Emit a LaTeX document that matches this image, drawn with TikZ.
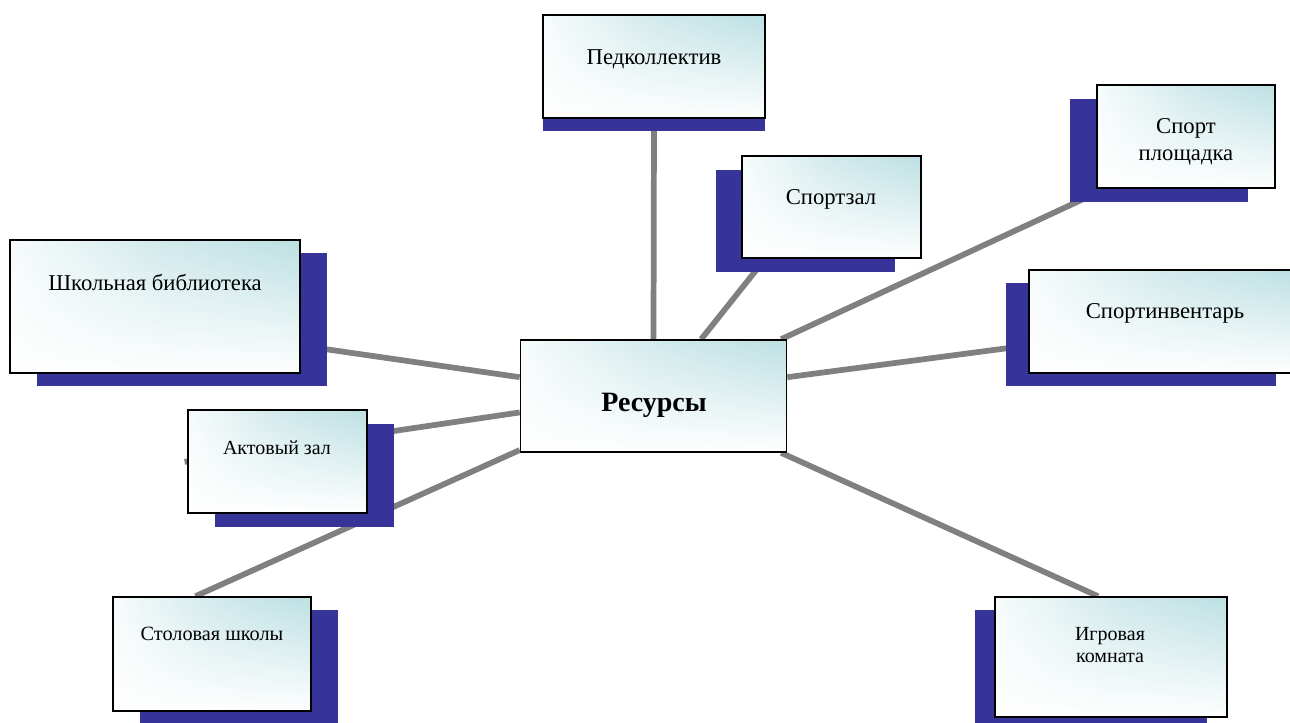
\documentclass[tikz,border=0pt]{standalone}
\usepackage{fontspec}
\setmainfont{Liberation Serif}
\usetikzlibrary{shadows,backgrounds,fadings}

\definecolor{shadowblue}{RGB}{54,52,153}
\definecolor{linkgray}{RGB}{128,128,128}
\definecolor{boxteal}{RGB}{186,223,226}
\pgfdeclarehorizontalshading{boxshade}{100bp}{color(0bp)=(white); color(20bp)=(white); color(50bp)=(boxteal!65!white); color(78bp)=(boxteal); color(100bp)=(boxteal)}
\tikzfading[name=fadelow, top color=transparent!100, middle color=transparent!80, bottom color=transparent!0]

\tikzset{
  box/.style={rectangle, draw=black, line width=1.2pt, shading=boxshade, inner sep=0pt,
    path picture={\fill[white, path fading=fadelow] (path picture bounding box.north west) rectangle (path picture bounding box.south east);}},
  shad/.style 2 args={drop shadow={shadow xshift=#1, shadow yshift=#2, fill=shadowblue, opacity=1}},
  link/.style={draw=linkgray, line width=4.3pt},
  lbl/.style={inner sep=0pt, anchor=base, font=\fontsize{17}{20.25}\selectfont},
}

\begin{document}
\begin{tikzpicture}[x=0.75pt, y=-0.75pt]
      \useasboundingbox (0,0) rectangle (1290,722);
      % boxes
      \node [box, minimum width=199.5pt, minimum height=84pt] (res) at (653.5,396) {};
      \node [box, shad={0pt}{-9.75pt}, minimum width=166.5pt, minimum height=77.25pt] (ped) at (654,66.5) {};
      \node [box, shad={-19.5pt}{-10.5pt}, minimum width=134.25pt, minimum height=76.5pt] (sz) at (831.5,207) {};
      \node [box, shad={-20.25pt}{-10.5pt}, minimum width=133.5pt, minimum height=77.25pt] (sp) at (1186,136.5) {};
      \node [box, shad={-17.25pt}{-9.75pt}, minimum width=202.5pt, minimum height=77.25pt] (si) at (1164,321.5) {};
      \node [box, shad={20.25pt}{-9.75pt}, minimum width=217.5pt, minimum height=99.75pt] (lib) at (155,306.5) {};
      \node [box, shad={20.25pt}{-10.5pt}, minimum width=134.25pt, minimum height=77.25pt] (akt) at (277.5,461.5) {};
      \node [box, shad={20.25pt}{-9.75pt}, minimum width=148.5pt, minimum height=85.5pt] (st) at (212,654) {};
      \node [box, shad={-15pt}{-9.75pt}, minimum width=174pt, minimum height=90pt] (ig) at (1111,657) {};
      % texts
      \node [lbl, font=\fontsize{21}{25}\selectfont\bfseries] (restxt) at (654,411.7) {Ресурсы};
      \node [lbl] (pedtxt) at (654,64) {Педколлектив};
      \node [lbl] (sztxt) at (831,204) {Спортзал};
      \node [lbl, anchor=north, align=center] (sptxt) at (1186,118) {Спорт\\площадка};
      \node [lbl] (sitxt) at (1165,318) {Спортинвентарь};
      \node [lbl] (libtxt) at (155,290) {Школьная библиотека};
      \node [lbl, font=\fontsize{15}{16.5}\selectfont] (akttxt) at (277,454) {Актовый зал};
      \node [lbl, font=\fontsize{15.2}{16.5}\selectfont] (sttxt) at (212,640) {Столовая школы};
      \node [lbl, anchor=north, align=center, font=\fontsize{15}{16.5}\selectfont] (igtxt) at (1110,627) {Игровая\\комната};
      % links
      \begin{scope}[on background layer]
        \draw [link] (res.north) -- (ped.south);
        \draw [link] (res.50.5) -- (sz.218);
        \draw [link] (res.24.6) -- (sp.213);
        \draw [link] (res.8) -- (si.190);
        \draw [link] (res.336) -- (ig.102);
        \draw [link] (res.172) -- (lib.345);
        \draw [link, shorten >=-2pt] (res.187) -- (akt.west);
        \draw [link] (res.202) -- (st.106);
      \end{scope}
\end{tikzpicture}
\end{document}
